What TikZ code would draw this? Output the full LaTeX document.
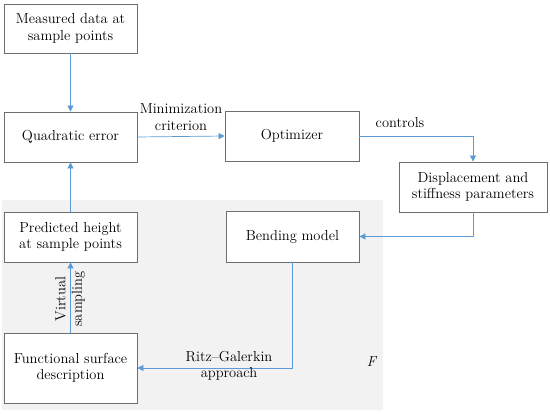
\documentclass[tikz,border=0pt]{standalone}
\usetikzlibrary{arrows.meta,positioning}
\definecolor{conn}{RGB}{91,155,213}
\definecolor{bordc}{RGB}{110,110,110}
\definecolor{bgc}{RGB}{242,242,242}
\begin{document}
\begin{tikzpicture}[x=1pt,y=-1pt,
  box/.style={draw=bordc,line width=0.8pt,fill=white,rectangle,align=center,inner sep=0pt,font=\fontsize{14.5}{16.5}\selectfont},
  conn/.style={draw=conn,line width=0.7pt,-{Triangle[width=6pt,length=6pt]}},
  lab/.style={align=center,font=\fontsize{14.5}{16.5}\selectfont,inner sep=0pt}]
\useasboundingbox (0,0) rectangle (550,414);
\fill[bgc] (2,200) rectangle (383,410);
\node[box,minimum width=133pt,minimum height=49pt] (meas) at (70.5,28.5) {Measured data at\\sample points};
\node[box,minimum width=133pt,minimum height=50pt] (quad) at (70.5,137) {Quadratic error};
\node[box,minimum width=134pt,minimum height=50pt] (opt) at (292,136) {Optimizer};
\node[box,minimum width=148pt,minimum height=50pt] (disp) at (473,187) {Displacement and\\stiffness parameters};
\node[box,minimum width=133pt,minimum height=51pt] (bend) at (292.5,236.5) {Bending model};
\node[box,minimum width=133pt,minimum height=50pt] (pred) at (70.5,237) {Predicted height\\at sample points};
\node[box,minimum width=133pt,minimum height=70pt] (func) at (70.5,368) {Functional surface\\description};
\draw[conn] (meas.south) -- (quad.north);
\draw[conn] (pred.north) -- (quad.south);
\draw[conn] (func.north) -- (pred.south);
\draw[conn] (quad.east) -- (opt.west);
\draw[conn] (opt.east) -| (disp.north);
\draw[conn] (disp.south) |- (bend.east);
\draw[conn] (bend.south) |- (func.east);
\node[lab] (l1) at (181,117) {Minimization\\criterion};
\node[lab] (l2) at (400,123) {controls};
\node[lab,rotate=90] (l3) at (70,299) {Virtual\\sampling};
\node[lab] (l4) at (229,366) {Ritz--Galerkin\\approach};
\node[lab] (l5) at (372,362) {\textit{F}};
\end{tikzpicture}
\end{document}
